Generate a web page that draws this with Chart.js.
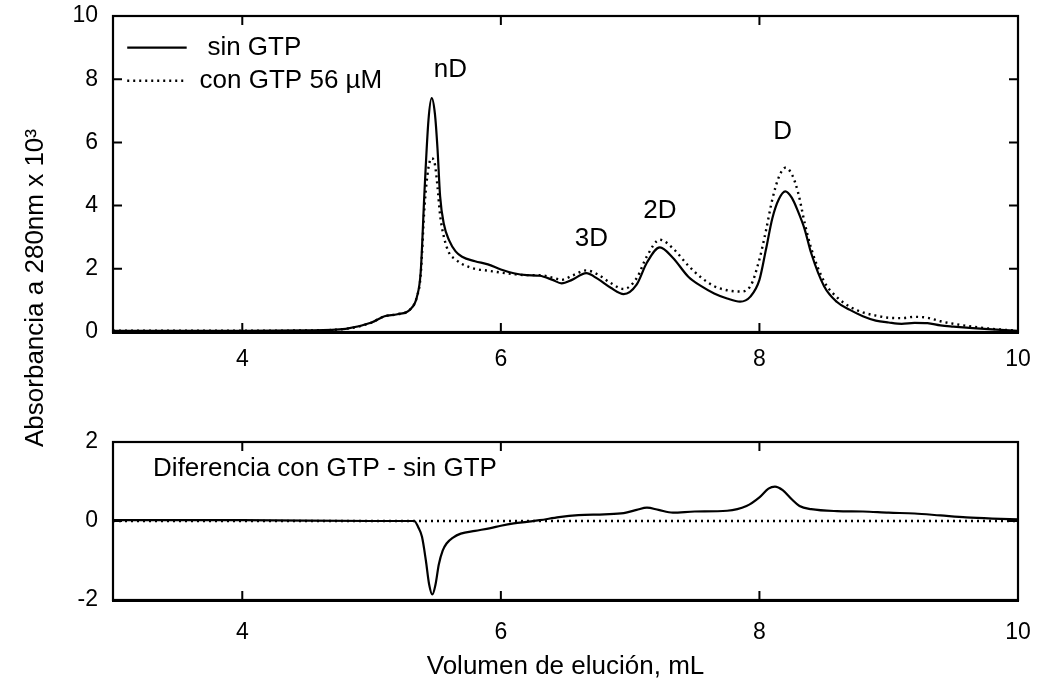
<!DOCTYPE html>
<html><head><meta charset="utf-8">
<script src="https://cdn.jsdelivr.net/npm/chart.js@4.4.1/dist/chart.umd.min.js"></script>
<style>
html,body{margin:0;padding:0;background:#fff;}
#wrap{position:relative;width:1040px;height:688px;background:#fff;}
#wrap canvas{position:absolute;left:0;top:0;}
</style></head><body>
<div id="wrap"><canvas id="cTop" width="1040" height="688"></canvas><canvas id="cBot" width="1040" height="688"></canvas></div>
<script>
// ---- data ----
const elutionX = [3.0,3.5,4.0,4.5,4.8,5.0,5.1,5.2,5.3,5.35,5.38,5.41,5.44,5.465,5.49,5.51,5.53,5.56,5.6,5.65,5.7,5.8,5.9,6.0,6.1,6.2,6.3,6.4,6.47,6.55,6.66,6.75,6.85,6.95,7.05,7.13,7.23,7.33,7.45,7.55,7.65,7.75,7.85,7.93,8.0,8.05,8.1,8.15,8.2,8.25,8.3,8.35,8.4,8.5,8.6,8.7,8.8,8.9,9.0,9.1,9.2,9.3,9.4,9.5,9.65,9.8,10.0];
const sinGTP = [0.04,0.04,0.04,0.05,0.1,0.3,0.5,0.56,0.72,1.1,1.9,4.5,6.7,7.4,6.9,5.8,4.3,3.4,2.9,2.55,2.38,2.24,2.14,1.98,1.86,1.8,1.78,1.65,1.54,1.65,1.86,1.68,1.4,1.2,1.5,2.2,2.68,2.35,1.75,1.45,1.22,1.06,0.96,1.12,1.65,2.6,3.6,4.2,4.45,4.25,3.8,3.25,2.5,1.45,0.95,0.7,0.5,0.36,0.3,0.26,0.29,0.28,0.21,0.17,0.12,0.08,0.04];
const conGTP = [0.04,0.04,0.04,0.05,0.1,0.3,0.5,0.56,0.72,1.1,1.8,4.0,5.2,5.5,5.3,4.6,3.7,3.0,2.5,2.3,2.15,2.0,1.94,1.88,1.83,1.8,1.8,1.72,1.65,1.78,1.95,1.82,1.55,1.36,1.7,2.4,2.92,2.65,2.1,1.72,1.45,1.32,1.28,1.45,2.3,3.2,4.2,4.9,5.2,5.0,4.4,3.45,2.65,1.6,1.1,0.8,0.62,0.52,0.45,0.44,0.48,0.45,0.34,0.26,0.17,0.1,0.04];
const diffX = [3.0,4.0,5.0,5.33,5.36,5.39,5.42,5.445,5.47,5.495,5.52,5.55,5.58,5.63,5.69,5.8,5.92,6.0,6.1,6.2,6.3,6.45,6.6,6.8,6.95,7.05,7.13,7.22,7.33,7.5,7.75,7.9,8.0,8.07,8.12,8.18,8.25,8.31,8.4,8.6,8.8,9.0,9.2,9.4,9.6,9.8,10.0];
const diffVals = [0.02,0.02,0.0,0.0,-0.15,-0.4,-1.0,-1.6,-1.86,-1.6,-1.1,-0.75,-0.57,-0.42,-0.32,-0.25,-0.18,-0.12,-0.06,-0.02,0.02,0.1,0.15,0.17,0.2,0.28,0.34,0.28,0.21,0.24,0.26,0.38,0.6,0.82,0.87,0.78,0.55,0.38,0.3,0.25,0.24,0.21,0.19,0.14,0.09,0.06,0.04];
const zeroX = [3, 10];
const zeroVals = [0, 0];
const xTicks = [4, 6, 8, 10];
const yTicksTop = [0, 2, 4, 6, 8, 10];
const yTicksBottom = [-2, 0, 2];
const seriesNames = ['sin GTP', 'con GTP 56 µM'];
const peakLabels = ['nD', '3D', '2D', 'D'];
const peakLabelX = [5.61, 6.70, 7.23, 8.18];
const peakLabelY = [8.3, 2.95, 3.84, 6.34];
const diffTitle = 'Diferencia con GTP - sin GTP';
const xTitle = 'Volumen de elución, mL';
const yTitle = 'Absorbancia a 280nm x 10³';

// ---- styling ----
const FONT = "'Liberation Sans', Arial, Helvetica, sans-serif";
const INK = '#000';
const pts = (xs, ys) => xs.map((v, i) => ({x: v, y: ys[i]}));

const framePlugin = {
  id: 'frame',
  afterDraw(chart, args, o) {
    const {ctx, chartArea: a, scales: {x, y}} = chart;
    ctx.save();
    ctx.strokeStyle = INK; ctx.lineWidth = 2.2;
    ctx.strokeRect(a.left, a.top, a.right - a.left, a.bottom - a.top);
    ctx.lineWidth = 3;
    ctx.beginPath(); ctx.moveTo(a.left - 1, a.bottom + 0.5); ctx.lineTo(a.right + 1, a.bottom + 0.5); ctx.stroke();
    ctx.lineWidth = 2;
    ctx.beginPath();
    o.xTicks.forEach(v => { if (v <= x.min || v >= x.max) return; const p = x.getPixelForValue(v);
      ctx.moveTo(p, a.bottom); ctx.lineTo(p, a.bottom - o.len); ctx.moveTo(p, a.top); ctx.lineTo(p, a.top + o.len); });
    o.yTicks.forEach(v => { if (v <= y.min || v >= y.max) return; const p = y.getPixelForValue(v);
      ctx.moveTo(a.left, p); ctx.lineTo(a.left + o.len, p); ctx.moveTo(a.right, p); ctx.lineTo(a.right - o.len, p); });
    ctx.stroke();
    ctx.restore();
  }
};

const textPlugin = {
  id: 'texts',
  afterDraw(chart, args, o) {
    const {ctx, scales: {x, y}} = chart;
    ctx.save();
    ctx.fillStyle = INK; ctx.textBaseline = 'middle';
    (o.items || []).forEach(it => {
      ctx.font = it.font; ctx.textAlign = it.align || 'center';
      ctx.fillText(it.text, x.getPixelForValue(it.x), y.getPixelForValue(it.y));
    });
    (o.legend || []).forEach(it => {
      const ds = chart.data.datasets[it.ds];
      const y0 = y.getPixelForValue(it.y);
      ctx.save();
      ctx.strokeStyle = ds.borderColor; ctx.lineWidth = ds.borderWidth;
      ctx.setLineDash(ds.borderDash || []);
      ctx.beginPath(); ctx.moveTo(x.getPixelForValue(it.x0), y0); ctx.lineTo(x.getPixelForValue(it.x1), y0); ctx.stroke();
      ctx.restore();
      ctx.font = it.font; ctx.textAlign = 'left';
      ctx.fillText(ds.label, x.getPixelForValue(it.tx), y0);
    });
    if (o.yTitle) {
      ctx.save();
      ctx.font = o.yTitle.font; ctx.textAlign = 'center';
      ctx.translate(o.yTitle.cx, o.yTitle.cy); ctx.rotate(-Math.PI / 2);
      ctx.fillText(o.yTitle.text, 0, 0);
      ctx.restore();
    }
    ctx.restore();
  }
};

const tickFont = {family: FONT, size: 23};
const labelFont = `26px ${FONT}`;

function baseOptions(yMin, yMax, yTicks, padding, xAxisH, xTickPad) {
  return {
    responsive: false, animation: false, devicePixelRatio: 1,
    layout: {padding},
    plugins: {legend: {display: false}, tooltip: {enabled: false}},
    elements: {point: {radius: 0}, line: {cubicInterpolationMode: 'monotone'}},
    scales: {
      x: {type: 'linear', min: 3, max: 10,
        afterBuildTicks: s => { s.ticks = xTicks.map(v => ({value: v})); },
        afterFit: s => { s.height = xAxisH; s.paddingLeft = 0; s.paddingRight = 0; },
        grid: {display: false, drawTicks: false}, border: {display: false},
        ticks: {font: tickFont, color: INK, padding: xTickPad, maxRotation: 0}},
      y: {type: 'linear', min: yMin, max: yMax,
        afterBuildTicks: s => { s.ticks = yTicks.map(v => ({value: v})); },
        afterFit: s => { s.width = 113; s.paddingTop = 0; s.paddingBottom = 0; },
        grid: {display: false, drawTicks: false}, border: {display: false},
        ticks: {font: tickFont, color: INK, padding: 15}}
    }
  };
}

// ---- top chart ----
const optTop = baseOptions(0, 10, yTicksTop, {top: 16, right: 22, bottom: 303, left: 0}, 53, 14);
optTop.plugins.frame = {xTicks, yTicks: yTicksTop, len: 9};
optTop.plugins.texts = {
  items: peakLabels.map((t, i) => ({text: t, x: peakLabelX[i], y: peakLabelY[i], font: labelFont})),
  legend: [
    {ds: 0, x0: 3.11, x1: 3.57, tx: 3.73, y: 9.0, font: labelFont},
    {ds: 1, x0: 3.11, x1: 3.57, tx: 3.67, y: 7.95, font: labelFont}
  ]
};
new Chart(document.getElementById('cTop'), {
  type: 'line',
  data: {datasets: [
    {label: seriesNames[0], data: pts(elutionX, sinGTP), borderColor: INK, borderWidth: 2.2, fill: false},
    {label: seriesNames[1], data: pts(elutionX, conGTP), borderColor: INK, borderWidth: 2.4, borderDash: [2, 4], fill: false}
  ]},
  options: optTop,
  plugins: [framePlugin, textPlugin]
});

// ---- bottom (difference) chart ----
const optBot = baseOptions(-2, 2, yTicksBottom, {top: 442, right: 22, bottom: 0, left: 0}, 88, 19);
optBot.scales.x.title = {display: true, text: xTitle, font: {family: FONT, size: 26}, color: INK, padding: {top: 0, bottom: 6}};
optBot.plugins.frame = {xTicks, yTicks: yTicksBottom, len: 9};
optBot.plugins.texts = {
  items: [{text: diffTitle, x: 3.31, y: 1.32, font: labelFont, align: 'left'}],
  yTitle: {text: yTitle, font: `26px ${FONT}`, cx: 36, cy: 288}
};
new Chart(document.getElementById('cBot'), {
  type: 'line',
  data: {datasets: [
    {label: 'cero', data: pts(zeroX, zeroVals), borderColor: INK, borderWidth: 2.4, borderDash: [2, 4], fill: false},
    {label: diffTitle, data: pts(diffX, diffVals), borderColor: INK, borderWidth: 2.2, fill: false}
  ]},
  options: optBot,
  plugins: [framePlugin, textPlugin]
});
</script>
</body></html>
